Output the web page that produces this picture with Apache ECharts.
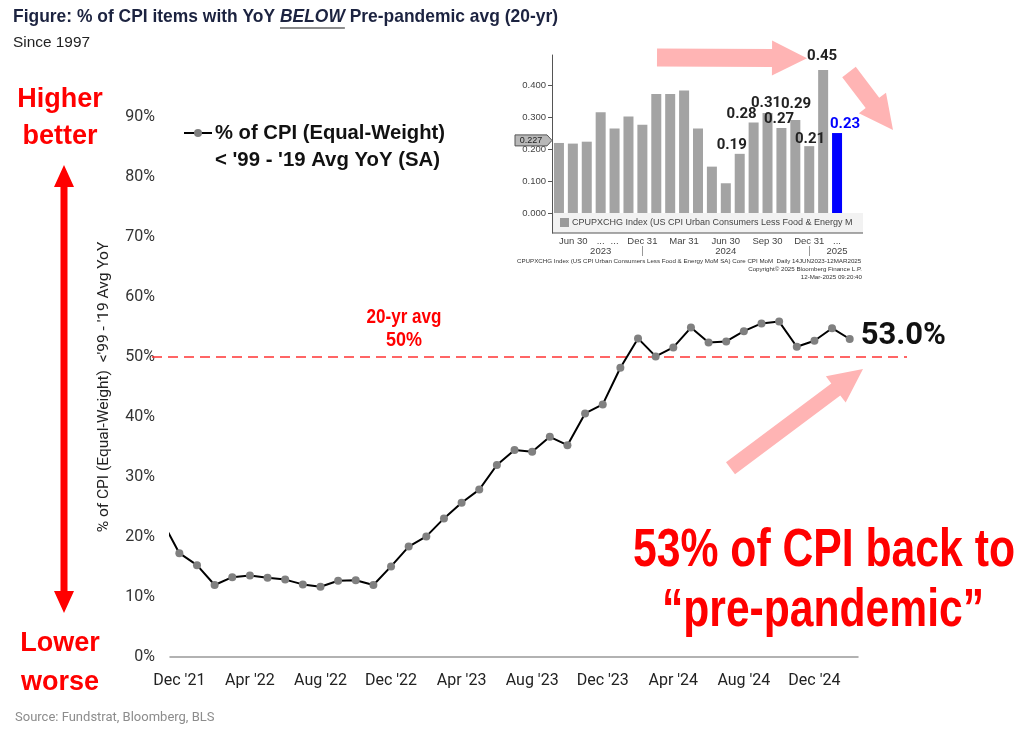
<!DOCTYPE html>
<html><head><meta charset="utf-8">
<script src="https://cdn.jsdelivr.net/npm/echarts@6/dist/echarts.min.js"></script>
<style>html,body{margin:0;padding:0;background:#fff}#c{width:1024px;height:738px}</style>
</head><body><div id="c"></div>
<script>
// ---------- data ----------
const months = ["Nov '21","Dec '21","Jan '22","Feb '22","Mar '22","Apr '22","May '22","Jun '22","Jul '22","Aug '22","Sep '22","Oct '22","Nov '22","Dec '22","Jan '23","Feb '23","Mar '23","Apr '23","May '23","Jun '23","Jul '23","Aug '23","Sep '23","Oct '23","Nov '23","Dec '23","Jan '24","Feb '24","Mar '24","Apr '24","May '24","Jun '24","Jul '24","Aug '24","Sep '24","Oct '24","Nov '24","Dec '24","Jan '25","Feb '25"];
const pctBelowAvg = [22.8,17.3,15.3,12.0,13.3,13.6,13.2,12.9,12.1,11.7,12.7,12.8,12.0,15.1,18.4,20.1,23.1,25.7,27.9,32.0,34.5,34.2,36.7,35.3,40.6,42.1,48.2,53.1,50.1,51.6,54.9,52.4,52.6,54.3,55.6,55.9,51.7,52.7,54.8,53.0];
const xTickLabels = ["Dec '21","Apr '22","Aug '22","Dec '22","Apr '23","Aug '23","Dec '23","Apr '24","Aug '24","Dec '24"];
const avgLevel = 50;

const insetMonths = ["Jun '23","Jul '23","Aug '23","Sep '23","Oct '23","Nov '23","Dec '23","Jan '24","Feb '24","Mar '24","Apr '24","May '24","Jun '24","Jul '24","Aug '24","Sep '24","Oct '24","Nov '24","Dec '24","Jan '25","Feb '25"];
const coreCpiMoM = [0.219,0.217,0.223,0.315,0.264,0.302,0.276,0.372,0.372,0.383,0.264,0.145,0.093,0.185,0.283,0.313,0.266,0.291,0.209,0.447,0.250];
const insetBarLabels = ["","","","","","","","","","","","","","0.19","0.28","0.31","0.27","0.29","0.21","0.45","0.23"];
const insetTickLabels = ["Jun 30","","","...","...","","Dec 31","","","Mar 31","","","Jun 30","","","Sep 30","","","Dec 31","","..."];
const insetYearLabels = ["","","","2023","","","","","","","","","2024","","","","","","","","2025"];
const insetYTicks = [0,0.1,0.2,0.3,0.4];
const insetMarkerValue = 0.227;

// ---------- styles ----------
const SANS = "'Liberation Sans',Arial,sans-serif";
const ROBOTO = "Roboto,'Liberation Sans',sans-serif";
const seriesName = "% of CPI (Equal-Weight)";
const labelNudges = {13:[-8,0],14:[-12,0],15:[-1.5,-1],16:[-2.4,0],17:[0.7,-7],18:[0.8,2],19:[-1,-5],20:[8,0]};
const lastIdx = pctBelowAvg.length - 1;

const chart = echarts.init(document.getElementById('c'), null, {renderer:'canvas'});

chart.setOption({
  animation:false,
  backgroundColor:'#fff',
  grid:[
    {left:170, right:166, top:117, bottom:81},
    {left:552, top:55, width:292, height:178}
  ],
  xAxis:[
    {type:'value', gridIndex:0, min:0.47, max:39.47,
     splitLine:{show:false}, axisTick:{show:false},
     axisLine:{show:true, onZero:false, lineStyle:{color:'#999', width:1.5}},
     axisLabel:{customValues:xTickLabels.map(l=>months.indexOf(l)),
       formatter:v=>months[Math.round(v)], fontFamily:ROBOTO, fontSize:16, color:'#222', margin:16}},
    {type:'category', gridIndex:1, data:insetMonths,
     axisLine:{show:false, onZero:false}, axisTick:{show:false},
     axisLabel:{interval:0, formatter:(v,i)=>insetTickLabels[i], fontFamily:SANS, fontSize:9.5, color:'#444', margin:3, alignMinLabel:'left'}},
    {type:'category', gridIndex:1, data:insetMonths, position:'bottom', offset:13,
     axisLine:{show:false, onZero:false},
     axisTick:{show:true, alignWithLabel:true, length:10, interval:(i)=>insetTickLabels[i]==='Dec 31', lineStyle:{color:'#999'}},
     axisLabel:{interval:0, formatter:(v,i)=>insetYearLabels[i], fontFamily:SANS, fontSize:9.5, color:'#444', margin:0}}
  ],
  yAxis:[
    {type:'value', gridIndex:0, min:0, max:90, interval:10,
     splitLine:{show:false}, axisLine:{show:false}, axisTick:{show:false},
     axisLabel:{formatter:'{value}%', fontFamily:ROBOTO, fontSize:16, color:'#333', margin:15},
     name:"% of CPI (Equal-Weight)  <'99 - '19 Avg YoY", nameLocation:'middle', nameGap:58,
     nameTextStyle:{fontFamily:ROBOTO, fontSize:15.5, color:'#222'}},
    {type:'value', gridIndex:1, min:-0.0625, max:0.494,
     splitLine:{show:false},
     axisLine:{show:true, lineStyle:{color:'#555'}},
     axisTick:{show:true, customValues:insetYTicks, length:4, lineStyle:{color:'#555'}},
     axisLabel:{customValues:insetYTicks, formatter:v=>v.toFixed(3), fontFamily:SANS, fontSize:9.5, color:'#444', margin:6}}
  ],
  series:[
    {type:'line', name:seriesName, xAxisIndex:0, yAxisIndex:0, clip:true, z:5,
     data:pctBelowAvg.map((v,i)=> i===lastIdx ? {value:[i,v], label:{show:true}} : [i,v]),
     symbol:'circle', symbolSize:8, showAllSymbol:true,
     lineStyle:{color:'#000', width:2}, itemStyle:{color:'#808080'},
     label:{show:false, position:'right', distance:7, offset:[0,-3], formatter:p=>p.value[1].toFixed(1)+'%',
       fontFamily:ROBOTO, fontSize:31, fontWeight:'bold', color:'#111'}},
    {type:'bar', xAxisIndex:1, yAxisIndex:1, barWidth:10, z:3,
     data:coreCpiMoM.map((v,i)=>{
       const o={value:v};
       if(i===coreCpiMoM.length-1){o.itemStyle={color:'#0000ff'}; o.label={color:'#0000ff'};}
       if(labelNudges[i]){o.label=Object.assign(o.label||{}, {offset:labelNudges[i]});}
       return o;
     }),
     itemStyle:{color:'#a3a3a3'},
     label:{show:true, position:'top', distance:1, formatter:p=>insetBarLabels[p.dataIndex],
       fontFamily:ROBOTO, fontSize:15, fontWeight:'bold', color:'#222'}}
  ]
});

// ---------- annotations ----------
const cv = document.createElement('canvas').getContext('2d');
function tw(t, f){ cv.font=f; return cv.measureText(t).width; }
// text squeezed horizontally to a target width (mimics a narrow typeface)
function fitText(text, x, y, width, size, fill, align, weight, z){
  const w = tw(text, (weight||'bold')+' '+size+'px '+SANS);
  return {type:'text', x:x, y:y, scaleX:width/w, z:z||10,
    style:{text:text, fontFamily:SANS, fontSize:size, fontWeight:weight||'bold', fill:fill, align:align||'left', verticalAlign:'middle'}};
}
function arrow(tx,ty,hx,hy,sw,hw,hl){
  const dx=hx-tx, dy=hy-ty, L=Math.hypot(dx,dy), ux=dx/L, uy=dy/L, nx=-uy, ny=ux;
  const bx=hx-ux*hl, by=hy-uy*hl;
  return [[tx+nx*sw/2,ty+ny*sw/2],[bx+nx*sw/2,by+ny*sw/2],[bx+nx*hw/2,by+ny*hw/2],[hx,hy],
          [bx-nx*hw/2,by-ny*hw/2],[bx-nx*sw/2,by-ny*sw/2],[tx-nx*sw/2,ty-ny*sw/2]];
}
const y50 = chart.convertToPixel({yAxisIndex:0}, avgLevel);
const yMark = chart.convertToPixel({yAxisIndex:1}, insetMarkerValue);
const axL = 552, insetRight = 863, insetBottom = 233, insetZero = chart.convertToPixel({yAxisIndex:1}, 0);

// title with italic BELOW + underline
const t1 = "Figure: % of CPI items with YoY ", t2 = "BELOW", t3 = " Pre-pandemic avg (20-yr)";
const fB = "bold 19px "+SANS, fI = "italic bold 19px "+SANS;
const wAll = tw(t1,fB)+tw(t2,fI)+tw(t3,fB);
const ts = 545 / wAll;
const uX1 = 13 + tw(t1,fB)*ts, uX2 = uX1 + tw(t2,fI)*ts;
const PINK = '#ffb4b4', RED = '#ff0000';

const g = [
  {type:'text', x:13, y:17, scaleX:ts, z:10, style:{text:'{a|'+t1+'}{b|'+t2+'}{a|'+t3+'}', verticalAlign:'middle',
    rich:{a:{fontFamily:SANS, fontSize:19, fontWeight:'bold', fill:'#1c2340'},
          b:{fontFamily:SANS, fontSize:19, fontWeight:'bold', fontStyle:'italic', fill:'#1c2340'}}}},
  {type:'line', z:10, shape:{x1:uX1, y1:28, x2:uX2, y2:28}, style:{stroke:'#666', lineWidth:1.5}},
  fitText('Since 1997', 13, 43, 77, 15, '#222', 'left', 'normal'),

  {type:'text', x:60, y:100, z:10, style:{text:'Higher', fontFamily:SANS, fontSize:27, fontWeight:'bold', fill:RED, align:'center', verticalAlign:'middle'}},
  {type:'text', x:60, y:137, z:10, style:{text:'better', fontFamily:SANS, fontSize:27, fontWeight:'bold', fill:RED, align:'center', verticalAlign:'middle'}},
  {type:'text', x:60, y:644, z:10, style:{text:'Lower', fontFamily:SANS, fontSize:27, fontWeight:'bold', fill:RED, align:'center', verticalAlign:'middle'}},
  {type:'text', x:60, y:683, z:10, style:{text:'worse', fontFamily:SANS, fontSize:27, fontWeight:'bold', fill:RED, align:'center', verticalAlign:'middle'}},
  {type:'polygon', z:10, shape:{points:[[64,165],[74,187],[67.5,187],[67.5,591],[74,591],[64,613],[54,591],[60.5,591],[60.5,187],[54,187]]}, style:{fill:RED}},

  // legend
  {type:'line', z:10, shape:{x1:184, y1:133, x2:212, y2:133}, style:{stroke:'#000', lineWidth:2}},
  {type:'circle', z:11, shape:{cx:198, cy:133, r:4}, style:{fill:'#808080'}},
  fitText(seriesName, 215, 133, 230, 21, '#111'),
  fitText("< '99 - '19 Avg YoY (SA)", 215, 160, 225, 21, '#111'),

  {type:'line', z:4, shape:{x1:152, y1:y50, x2:907, y2:y50}, style:{stroke:'#ff3333', lineWidth:1.6, lineDash:[10,6]}},
  fitText('20-yr avg', 404, 317, 75, 20, RED, 'center'),
  fitText('50%', 404, 340, 36, 20, RED, 'center'),

  fitText('53% of CPI back to', 824, 551, 382, 54, RED, 'center'),
  fitText('\u201cpre-pandemic\u201d', 823, 611, 322, 54, RED, 'center'),

  // inset decorations
  {type:'rect', z:2, shape:{x:axL+1, y:insetZero, width:insetRight-axL-1, height:insetBottom-insetZero}, style:{fill:'#f2f2f2'}},
  {type:'rect', z:6, shape:{x:560, y:insetZero+5, width:9, height:9}, style:{fill:'#9a9a9a'}},
  {type:'text', x:572, y:insetZero+10, z:6, style:{text:'CPUPXCHG Index (US CPI Urban Consumers Less Food & Energy M', fontFamily:SANS, fontSize:9, fill:'#444', verticalAlign:'middle', width:insetRight-572, overflow:'truncate', ellipsis:''}},
  {type:'line', z:6, shape:{x1:axL, y1:insetBottom, x2:insetRight, y2:insetBottom}, style:{stroke:'#555', lineWidth:1}},
  {type:'polygon', z:7, shape:{points:[[515,yMark-5.5],[547,yMark-5.5],[552,yMark],[547,yMark+5.5],[515,yMark+5.5]]}, style:{fill:'#b8b8b8', stroke:'#555', lineWidth:1}},
  {type:'text', x:531, y:yMark, z:8, style:{text:'0.227', fontFamily:SANS, fontSize:9, fill:'#222', align:'center', verticalAlign:'middle'}},
  {type:'text', x:517, y:261, z:6, style:{text:'CPUPXCHG Index (US CPI Urban Consumers Less Food & Energy MoM SA) Core CPI MoM  Daily 14JUN2023-12MAR2025', fontFamily:SANS, fontSize:6.2, fill:'#333', verticalAlign:'middle', width:insetRight-517, overflow:'truncate', ellipsis:''}},
  {type:'text', x:862, y:269.5, z:6, style:{text:'Copyright\u00a9 2025 Bloomberg Finance L.P.', fontFamily:SANS, fontSize:6.2, fill:'#333', align:'right', verticalAlign:'middle'}},
  {type:'text', x:862, y:277, z:6, style:{text:'12-Mar-2025 09:20:40', fontFamily:SANS, fontSize:6.2, fill:'#333', align:'right', verticalAlign:'middle'}},

  // pink arrows
  {type:'polygon', z:9, shape:{points:arrow(657,57.5,807,58.3,18,35,35)}, style:{fill:PINK}},
  {type:'polygon', z:9, shape:{points:arrow(849,72,893,130,17,34,34)}, style:{fill:PINK}},
  {type:'polygon', z:9, shape:{points:arrow(730.5,468.3,863,369,15,33,34)}, style:{fill:PINK}},

  {type:'text', left:15, top:711, z:10, style:{text:'Source: Fundstrat, Bloomberg, BLS', fontFamily:ROBOTO, fontSize:13, fill:'#8c8c8c'}}
];
chart.setOption({graphic:g});
</script></body></html>
